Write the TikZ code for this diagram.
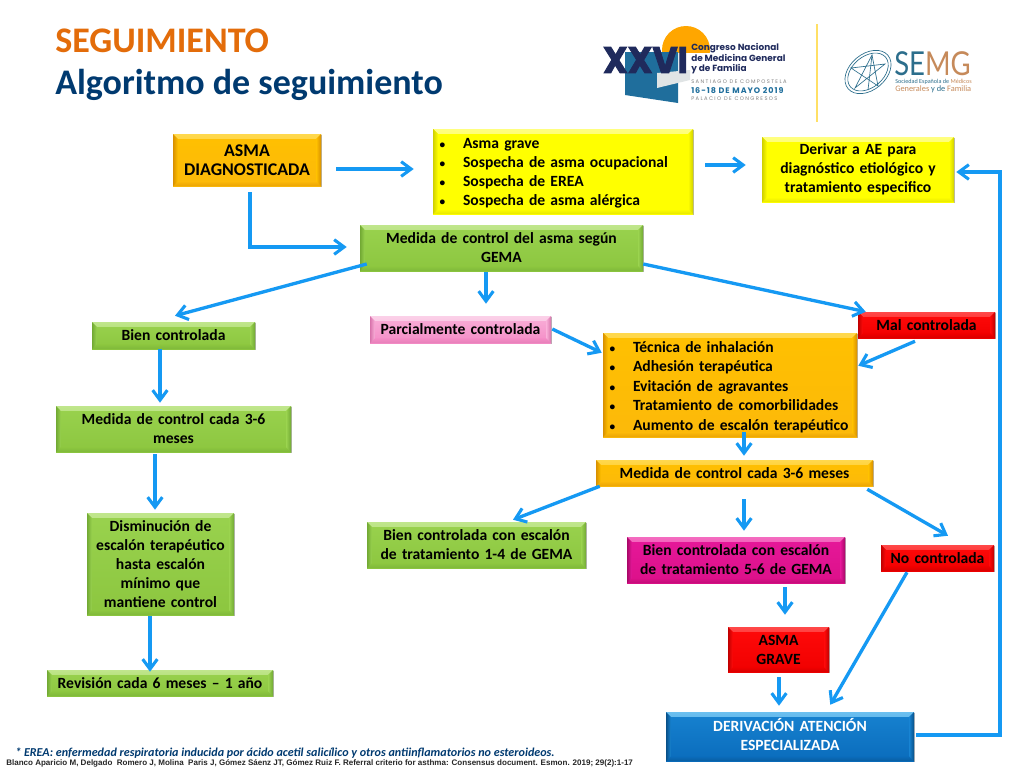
\documentclass[tikz,border=0pt]{standalone}
\usepackage{fontspec}
\setmainfont{Carlito}
\newfontfamily\arialf{Liberation Sans}
\newfontfamily\popf{Poppins}
\newfontfamily\popx[BoldFeatures={FakeBold=2.5}]{Poppins}
\newfontfamily\latof{Lato}
\usetikzlibrary{arrows.meta,shadows,calc}
\definecolor{tOrange}{HTML}{E36C0A}
\definecolor{tBlue}{HTML}{003A70}
\definecolor{arrowc}{HTML}{1599F3}
\definecolor{navyl}{HTML}{1F2A5C}
\definecolor{logob}{HTML}{1F6E9C}
\definecolor{logot}{HTML}{2C6E8C}
\definecolor{logoo}{HTML}{C68A5A}
\tikzset{
  x=0.75pt,y=-0.75pt,
  arr/.style={draw=arrowc,line width=2.5pt,-{Straight Barb[length=7.5pt,width=11pt,line width=2.3pt]},line join=miter},
  boxbase/.style={inner sep=0pt,font=\fontsize{11.7}{14.3}\selectfont\bfseries,text=black,align=center,
    drop shadow={shadow xshift=0.7pt,shadow yshift=-1pt,opacity=.3,fill=black}},
}
% name x1 y1 x2 y2 top bottom light dark text
\newcommand{\bx}[9]{%
  \def\bxn{#1}\def\bxa{#2}\def\bxb{#3}\def\bxc{#4}\def\bxd{#5}\def\bxt{#6}\def\bxu{#7}\def\bxl{#8}\def\bxk{#9}\bxfin}
\newcommand{\bxfin}[1]{%
  \node[boxbase,top color=\bxt,bottom color=\bxu,minimum width={(\bxc-\bxa)*0.75pt},minimum height={(\bxd-\bxb)*0.75pt},
    text width={(\bxc-\bxa-8)*0.75pt},
    path picture={
      \def\bv{3.6pt}
      \def\ppb{path picture bounding box}
      \shade[top color=\bxl,bottom color=\bxt] (\ppb.north west) -- (\ppb.north east)
        -- ([shift={(-\bv,-\bv)}]\ppb.north east) -- ([shift={(\bv,-\bv)}]\ppb.north west) -- cycle;
      \shade[top color=\bxu,bottom color=\bxk!50!\bxu] (\ppb.south west) -- (\ppb.south east)
        -- ([shift={(-\bv,\bv)}]\ppb.south east) -- ([shift={(\bv,\bv)}]\ppb.south west) -- cycle;
      \shade[left color=\bxk,right color=\bxt] (\ppb.north west) -- (\ppb.south west)
        -- ([shift={(\bv,\bv)}]\ppb.south west) -- ([shift={(\bv,-\bv)}]\ppb.north west) -- cycle;
      \shade[left color=\bxt,right color=\bxk] (\ppb.north east) -- (\ppb.south east)
        -- ([shift={(-\bv,\bv)}]\ppb.south east) -- ([shift={(-\bv,-\bv)}]\ppb.north east) -- cycle;
    }] (\bxn) at ({(\bxa+\bxc)/2},{(\bxb+\bxd)/2}) {#1};}
\newcommand{\lst}[1]{\raisebox{-1.5pt}[\height][\depth]{\parbox{\linewidth}{\raggedright #1}}}
\newcommand{\bul}{\makebox[19.5pt][l]{\hspace*{2pt}{\fontsize{8.5}{8.5}\selectfont\textbullet}}}
\begin{document}
\begin{tikzpicture}
\useasboundingbox (0,0) rectangle (1024,768);
\fill[white] (0,0) rectangle (1024,768);
% titles
\node[anchor=west,inner sep=0pt,font=\fontsize{27}{30}\selectfont\bfseries,text=tOrange] (t1) at (55,41) {SEGUIMIENTO};
\node[anchor=west,inner sep=0pt,font=\fontsize{27}{30}\selectfont\bfseries,text=tBlue] (t2) at (55,85) {Algoritmo de seguimiento};
% logo congreso
\fill[orange!70!yellow] (686,50) circle (24);
\fill[white] (655,53) rectangle (715,80);
\fill[logob] (625,52) -- (678,52) -- (678,103) -- (625,95) -- cycle;
\fill[cyan!10!gray!25] (657,73) -- (690,70) -- (690,80) -- (657,88) -- cycle;
\node[inner sep=0pt,text=navyl,font=\popx\bfseries\fontsize{24}{24}\selectfont] (xxvi) at (645.5,60) {\scalebox{1.08}[1.15]{XXVI}};
\node[anchor=north west,inner sep=0pt,align=left,text=navyl,font=\popf\bfseries\fontsize{6.7}{8}\selectfont] (cn) at (691,43) {Congreso Nacional\\de Medicina General\\y de Familia};
\node[anchor=west,inner sep=0pt,text=gray,font=\popf\fontsize{3.9}{5}\selectfont] (sc) at (691,82) {S A N T I A G O\ \ D E\ \ C O M P O S T E L A};
\node[anchor=west,inner sep=0pt,text=logob,font=\popf\bfseries\fontsize{6}{7}\selectfont\addfontfeature{LetterSpace=12}] (fe) at (691,90.5) {16-18 DE MAYO 2019};
\node[anchor=west,inner sep=0pt,text=gray,font=\popf\fontsize{3.9}{5}\selectfont] (pa) at (691,99) {P A L A C I O\ \ D E\ \ C O N G R E S O S};
\draw[orange!40!yellow!60!white,line width=1pt] (817,24) -- (817,122);
% logo semg
\draw[logot,line width=.5pt,rotate around={40:(868,72)}] (868,72) ellipse (26 and 18);
\draw[logot,line width=.5pt,rotate around={40:(868,72)}] (868,72) ellipse (23 and 15.5);
\draw[logot,line width=.5pt] (855,88) -- (872,55) -- (878,86) -- (851,68) -- (885,64) -- cycle;
\draw[logot,line width=.5pt] (872,55) -- (868,90);
\node[anchor=west,inner sep=0pt,font=\latof\fontsize{24}{24}\selectfont] (semg) at (894,63.5) {\scalebox{.86}[1.03]{\textcolor{logot}{SE}\textcolor{logoo}{MG}}};
\node[anchor=west,inner sep=0pt,font=\fontsize{4.6}{6}\selectfont] (s1) at (895,81.5) {\textcolor{logot}{Sociedad Española de} \textcolor{logoo}{Médicos}};
\node[anchor=west,inner sep=0pt,font=\fontsize{6.25}{8}\selectfont] (s2) at (895,89.5) {\textcolor{logoo}{Generales} \textcolor{logot}{y de} \textcolor{logoo}{Familia}};
% boxes
\definecolor{orT}{HTML}{FFC000}\definecolor{orB}{HTML}{FCB90A}\definecolor{orL}{HTML}{FFD84D}\definecolor{orD}{HTML}{D89000}
\definecolor{yeT}{HTML}{FFFF00}\definecolor{yeL}{HTML}{FFFF80}\definecolor{yeD}{HTML}{D0D000}
\bx{asma}{173}{134}{321}{186}{orT}{orB}{orL}{orD}{\fontsize{13.4}{16.5}\selectfont ASMA\\DIAGNOSTICADA}
\bx{yel}{433}{129}{693}{214}{yeT}{yeT}{yeL}{yeD}{\lst{\bul Asma grave\\\bul Sospecha de asma ocupacional\\\bul Sospecha de EREA\\\bul Sospecha de asma alérgica}}
\bx{der}{762}{137}{954}{202}{yeT}{yeT}{yeL}{yeD}{Derivar a AE para\\diagnóstico etiológico y\\tratamiento especifico}
\definecolor{greT}{HTML}{99D24E}\definecolor{greB}{HTML}{8CC63F}\definecolor{greL}{HTML}{C0E68C}\definecolor{greD}{HTML}{72A934}
\bx{gema}{360}{225}{643}{271}{greT}{greB}{greL}{greD}{Medida de control del asma según\\GEMA}
\bx{bien}{92}{322}{255}{349}{greT}{greB}{greL}{greD}{Bien controlada}
\definecolor{pinT}{HTML}{F9AFD8}\definecolor{pinB}{HTML}{F48CC6}\definecolor{pinL}{HTML}{FBD0E8}\definecolor{pinD}{HTML}{D873AC}
\bx{parc}{370}{316}{551}{343}{pinT}{pinB}{pinL}{pinD}{Parcialmente controlada}
\definecolor{redT}{HTML}{FF0A0A}\definecolor{redB}{HTML}{F00000}\definecolor{redL}{HTML}{FF4848}\definecolor{redD}{HTML}{C00000}
\bx{mal}{858}{312}{995}{338}{redT}{redB}{redL}{redD}{Mal controlada}
\bx{ora}{603}{333}{857}{437}{orT}{orB}{orL}{orD}{\lst{\bul Técnica de inhalación\\[.3pt]\bul Adhesión terapéutica\\[.3pt]\bul Evitación de agravantes\\[.3pt]\bul Tratamiento de comorbilidades\\[.3pt]\bul Aumento de escalón terapéutico}}
\bx{med2}{596}{460}{873}{486}{orT}{orB}{orL}{orD}{Medida de control cada 3-6 meses}
\bx{med1}{56}{406}{291}{452}{greT}{greB}{greL}{greD}{Medida de control cada 3-6\\meses}
\bx{dism}{87}{513}{234}{615}{greT}{greB}{greL}{greD}{Disminución de\\escalón terapéutico\\hasta escalón\\mínimo que\\mantiene control}
\bx{rev}{47}{670}{273}{696}{greT}{greB}{greL}{greD}{Revisión cada 6 meses – 1 año}
\bx{bca}{367}{522}{586}{568}{greT}{greB}{greL}{greD}{Bien controlada con escalón\\de tratamiento 1-4 de GEMA}
\definecolor{magT}{HTML}{E6189A}\definecolor{magB}{HTML}{DC1089}\definecolor{magL}{HTML}{F46CC0}\definecolor{magD}{HTML}{A80868}
\bx{bcb}{627}{537}{845}{583}{magT}{magB}{magL}{magD}{Bien controlada con escalón\\de tratamiento 5-6 de GEMA}
\bx{noc}{881}{545}{994}{571}{redT}{redB}{redL}{redD}{No controlada}
\bx{gra}{728}{627}{829}{672}{redT}{redB}{redL}{redD}{ASMA\\GRAVE}
\definecolor{bluT}{HTML}{1782D0}\definecolor{bluB}{HTML}{0A6CBC}\definecolor{bluL}{HTML}{6CC0F0}\definecolor{bluD}{HTML}{085088}
\bx{dev}{666}{712}{914}{761}{bluT}{bluB}{bluL}{bluD}{\raisebox{1.5pt}[\height][\depth]{\parbox{\linewidth}{\centering\color{white}DERIVACIÓN ATENCIÓN\\ESPECIALIZADA}}}
% connectors
\draw[arr] ([shift={(15,9)}]asma.east) -- ([shift={(-19,-2.5)}]yel.west);
\draw[arr] ([shift={(3,6)}]asma.south) |- ([shift={(-13,-1)}]gema.west);
\draw[arr] ([shift={(12,-6.5)}]yel.east) -- ([shift={(-16,-4.5)}]der.west);
\draw[arr] ([shift={(7,16)}]gema.west) -- ([shift={(1.5,-6)}]bien.north);
\draw[arr] ([shift={(-15.5,1)}]gema.south) -- ([shift={(25.5,-12)}]parc.north);
\draw[arr] ([shift={(0,16)}]gema.east) -- ([shift={(8,0)}]mal.north west);
\draw[arr] ([shift={(1,-.5)}]parc.east) -- ([shift={(-1,20)}]ora.north west);
\draw[arr] ([shift={(-11.5,3)}]mal.south) -- ([shift={(1,33)}]ora.north east);
\draw[arr] ([shift={(-13.5,0)}]bien.south) -- ([shift={(-13.5,-3)}]med1.north);
\draw[arr] ([shift={(-18.5,2)}]med1.south) -- ([shift={(-5.5,-3)}]dism.north);
\draw[arr] ([shift={(-10.5,1)}]dism.south) -- ([shift={(-10,2)}]rev.north);
\draw[arr] ([shift={(14,-5)}]ora.south) -- ([shift={(9.5,-4)}]med2.north);
\draw[arr] ([shift={(4,0)}]med2.south west) -- ([shift={(36.5,-2)}]bca.north);
\draw[arr] ([shift={(9.5,13)}]med2.south) -- ([shift={(8,-6)}]bcb.north);
\draw[arr] ([shift={(-6,3)}]med2.south east) -- ([shift={(10.5,-9)}]noc.north);
\draw[arr] ([shift={(49,4)}]bcb.south) -- ([shift={(6.5,-12)}]gra.north);
\draw[arr] ([shift={(.5,5)}]gra.south) -- ([shift={(-11,-6)}]dev.north);
\draw[arr] ([shift={(-30.5,1)}]noc.south) -- ([shift={(-84,-7)}]dev.north east);
\coordinate (back) at (1000,450);
\draw[arr] ([shift={(2,-1.5)}]dev.east) -| (back) |- ([shift={(2,2.5)}]der.east);
% notes
\node[anchor=west,inner sep=0pt,text=tBlue,font=\fontsize{9.07}{10}\selectfont\bfseries\itshape] (n1) at (15,753) {* EREA: enfermedad respiratoria inducida por ácido acetil salicílico y otros antiinflamatorios no esteroideos.};
\node[anchor=west,inner sep=0pt,text=black!85,font=\arialf\fontsize{6.02}{7}\selectfont\bfseries] (n2) at (6,763) {Blanco Aparicio M, Delgado\ \ Romero J, Molina\ \ Paris J, Gómez Sáenz JT, Gómez Ruiz F. Referral criterio for asthma: Consensus document. Esmon. 2019; 29(2):1-17};
\end{tikzpicture}
\end{document}
